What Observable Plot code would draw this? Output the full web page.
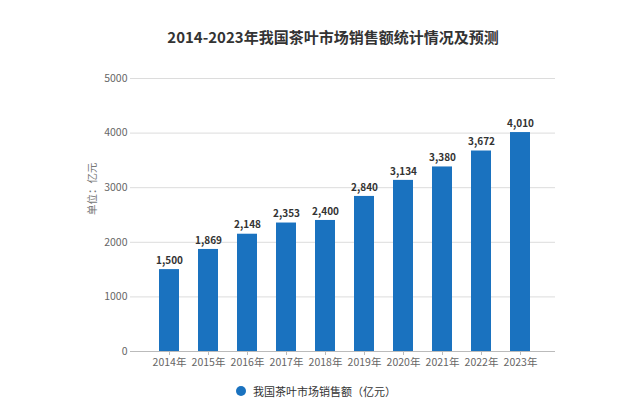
<!DOCTYPE html>
<html>
<head>
<meta charset="utf-8">
<script src="https://cdn.jsdelivr.net/npm/d3@7"></script>
<script src="https://cdn.jsdelivr.net/npm/@observablehq/plot@0.6"></script>
<style>
  body { margin: 0; background: #fff; font-family: "Noto Sans CJK SC", "Noto Sans", sans-serif; }
  #wrap { width: 640px; height: 404px; overflow: hidden; }
  #title { height: 58px; box-sizing: border-box; padding-top: 27px; padding-left: 26px; text-align: center; font-size: 15px; line-height: 20px; font-weight: bold; color: #333; }
  #legend { height: 34px; box-sizing: border-box; padding-top: 8px; display: flex; justify-content: center; align-items: center; font-size: 11px; line-height: 16px; color: #333; padding-right: 8px; }
  #legend .dot { width: 10px; height: 10px; border-radius: 50%; background: #1a72bf; margin-right: 7px; }
</style>
</head>
<body>
<div id="wrap">
  <div id="title">2014-2023年我国茶叶市场销售额统计情况及预测</div>
  <div id="chart"></div>
  <div id="legend"><span class="dot"></span><span>我国茶叶市场销售额（亿元）</span></div>
</div>
<script>
const years = ["2014年","2015年","2016年","2017年","2018年","2019年","2020年","2021年","2022年","2023年"];
const sales = [1500, 1869, 2148, 2353, 2400, 2840, 3134, 3380, 3672, 4010];
const yTicks = [0, 1000, 2000, 3000, 4000, 5000];
const seriesName = "我国茶叶市场销售额（亿元）";
const yLabel = "单位：亿元";

const data = years.map((y, i) => ({year: y, value: sales[i]}));
const blue = "#1a72bf";

const chart = Plot.plot({
  width: 640,
  height: 312,
  marginTop: 20,
  marginBottom: 19,
  marginLeft: 137,
  marginRight: 88,
  style: {fontFamily: '"Noto Sans CJK SC", "Noto Sans", sans-serif', background: "#fff"},
  x: {domain: years, padding: 0.5, label: null},
  y: {domain: [0, 5000], label: null},
  marks: [
    Plot.ruleY(yTicks.filter(d => d > 0), {stroke: "#dcdcdc", strokeWidth: 1, insetLeft: -7, insetRight: -3}),
    Plot.barY(data, {x: "year", y: "value", fill: blue}),
    Plot.ruleY([0], {stroke: "#bbb", strokeWidth: 1, insetLeft: -7, insetRight: -3}),
    Plot.axisY(yTicks, {tickSize: 0, tickPadding: 10, tickFormat: d => String(d), fontSize: 10.5, fill: "#666", label: null}),
    Plot.axisX({tickSize: 4, stroke: "#bbb", tickPadding: 3, fontSize: 10.5, fill: "#666", label: null}),
    Plot.text(data, {x: "year", y: "value", text: d => d3.format(",")(d.value), dy: -9, fontSize: 10, fontWeight: "bold", fill: "#333"}),
    Plot.text([yLabel], {frameAnchor: "left", dx: -45, rotate: -90, text: d => d, fontSize: 10.5, fill: "#777"})
  ]
});
document.getElementById("chart").appendChild(chart);
</script>
</body>
</html>
